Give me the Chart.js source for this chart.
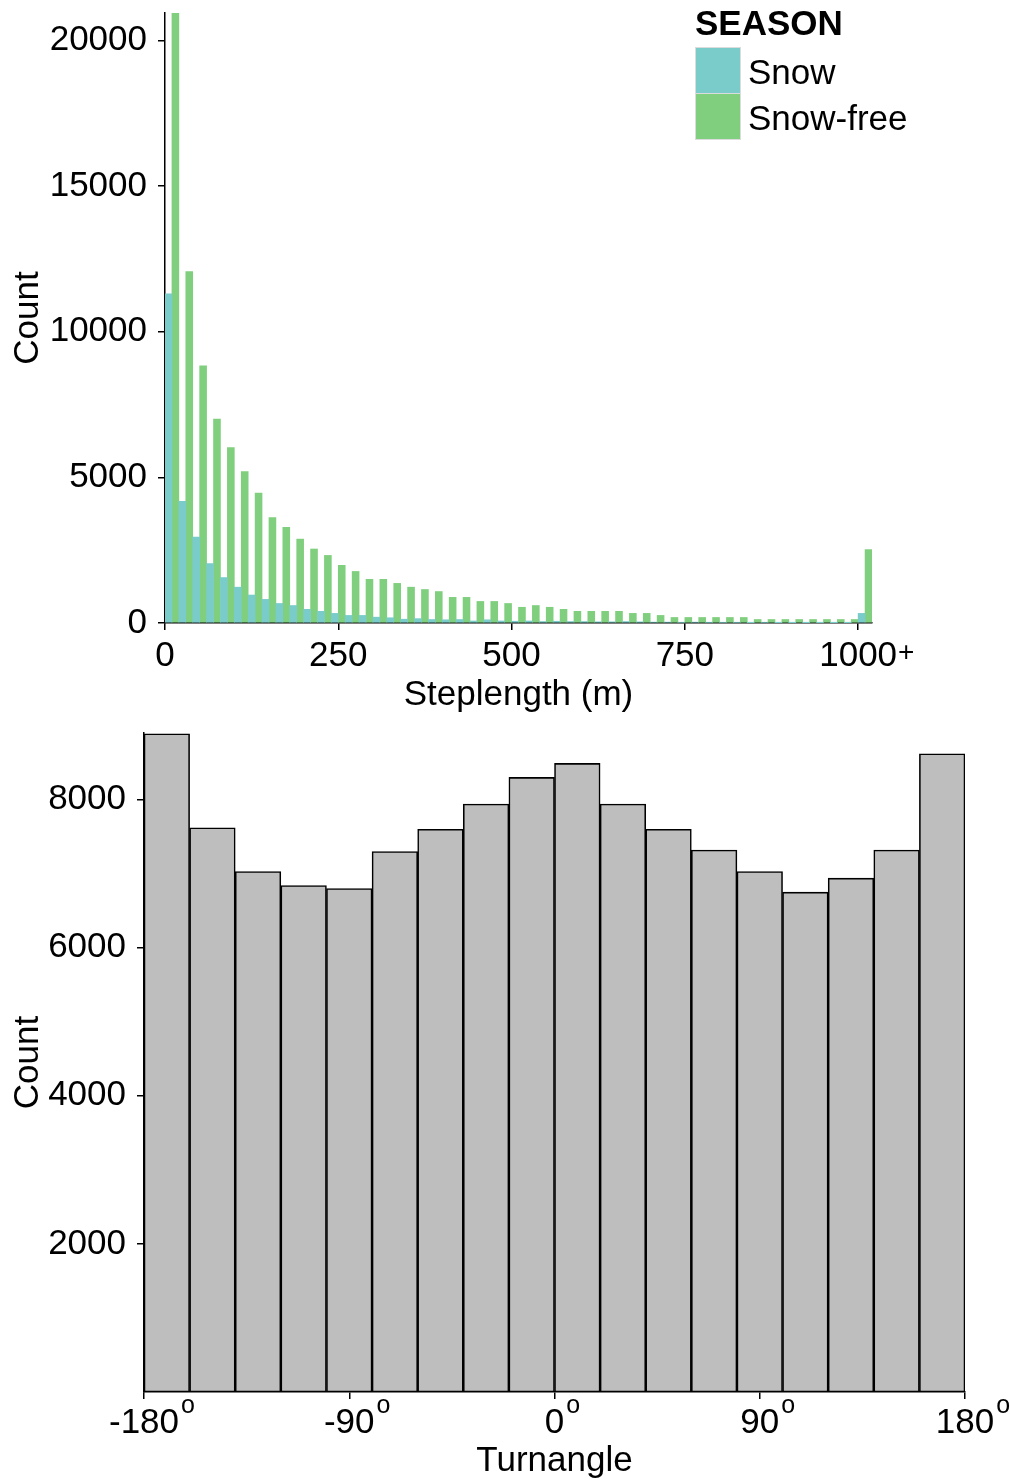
<!DOCTYPE html>
<html>
<head>
<meta charset="utf-8">
<script src="https://cdn.jsdelivr.net/npm/chart.js@4.4.1/dist/chart.umd.min.js"></script>
<style>
  body { margin: 0; background: #fff; }
  #stepChart { position: absolute; left: 0; top: 0; }
  #turnChart { position: absolute; left: 0; top: 720px; }
</style>
</head>
<body>
<canvas id="stepChart" width="1010" height="720"></canvas>
<canvas id="turnChart" width="1010" height="762"></canvas>
<script>
// steplength histogram, 20 m bins, last bin = 1000+
const stepBinStarts = [0, 20, 40, 60, 80, 100, 120, 140, 160, 180, 200, 220, 240, 260, 280, 300, 320, 340, 360, 380,
  400, 420, 440, 460, 480, 500, 520, 540, 560, 580, 600, 620, 640, 660, 680, 700, 720, 740, 760, 780,
  800, 820, 840, 860, 880, 900, 920, 940, 960, 980, 1000]
const snowCounts = [11300, 4180, 2950, 2040, 1560, 1230, 960, 810, 670, 600, 470, 400, 330, 260, 260, 200, 180, 130, 150, 120,
  110, 120, 70, 110, 70, 60, 70, 50, 60, 50, 50, 40, 40, 50, 40, 30, 30, 20, 30, 20,
  20, 20, 10, 20, 10, 10, 10, 10, 10, 10, 330]
const snowFreeCounts = [21500, 12060, 8830, 7000, 6020, 5200, 4460, 3620, 3280, 2880, 2540, 2320, 1980, 1770, 1500, 1500, 1360, 1230, 1150, 1080,
  880, 880, 740, 740, 670, 540, 600, 540, 470, 400, 400, 400, 400, 330, 330, 260, 190, 190, 190, 190,
  190, 190, 120, 120, 120, 120, 120, 120, 120, 120, 2520]
const stepTicks = [0, 250, 500, 750, 1000]
const stepCountTicks = [0, 5000, 10000, 15000, 20000]

// turnangle histogram, 20 degree bins
const turnBinStarts = [-180, -160, -140, -120, -100, -80, -60, -40, -20, 0, 20, 40, 60, 80, 100, 120, 140, 160]
const turnCounts = [8890, 7620, 7030, 6840, 6800, 7300, 7600, 7940, 8300, 8490, 7940, 7600, 7320, 7030, 6750, 6940, 7320, 8620]
const turnTicks = [-180, -90, 0, 90, 180]
const turnCountTicks = [2000, 4000, 6000, 8000]

const FONT = 'Liberation Sans, Arial, sans-serif'
const teal = '#79CCCA'
const green = '#80CF7E'

function fixedTicks(list) {
    return s => { s.ticks = list.map(v => ({ value: v })) }
}

function noPad(s) {
    s.paddingTop = 0; s.paddingBottom = 0; s.paddingLeft = 0; s.paddingRight = 0
}

function axis(extra) {
    return Object.assign({
        z: 1,
        grid: { drawOnChartArea: false, tickLength: 7, color: '#000', lineWidth: 1.5, offset: false },
        border: { display: true, color: '#000', width: 1.5 },
        ticks: { color: '#000', font: { size: 35, family: FONT }, maxRotation: 0, autoSkip: false },
    }, extra)
}

// small raised suffix after a tick label (degree "o", "+")
const suffixPlugin = {
    id: 'suffix',
    afterDraw(chart, args, opts) {
        const sc = chart.scales.x
        const ctx = chart.ctx
        ctx.save()
        ctx.fillStyle = '#000'
        ctx.textAlign = 'left'
        ctx.textBaseline = 'middle'
        sc.ticks.forEach(t => {
            const s = opts.text(t.value)
            if (!s) return
            ctx.font = `35px ${FONT}`
            const w = ctx.measureText(t.label).width
            const x = sc.getPixelForValue(t.value) + w / 2 + opts.gap
            const y = sc.top + 7 + opts.pad + 21 + opts.dy
            ctx.font = `${opts.size}px ${FONT}`
            ctx.fillText(s, x, y)
        })
        ctx.restore()
    }
}

const seasonLegend = {
    id: 'seasonLegend',
    afterDraw(chart) {
        const ctx = chart.ctx
        ctx.save()
        ctx.textAlign = 'left'
        ctx.textBaseline = 'middle'
        ctx.fillStyle = '#000'
        ctx.font = `bold 35px ${FONT}`
        ctx.fillText('SEASON', 695, 25)
        ctx.font = `35px ${FONT}`
        chart.data.datasets.forEach((ds, i) => {
            const y = 47 + i * 46
            ctx.fillStyle = ds.backgroundColor
            ctx.fillRect(695, y, 45, 46)
            ctx.strokeStyle = '#dcdcdc'
            ctx.lineWidth = 1
            ctx.strokeRect(695.5, y + 0.5, 45, 46)
            ctx.fillStyle = '#000'
            ctx.fillText(ds.label, 748, y + 27)
        })
        ctx.restore()
    }
}

const stepChart = new Chart('stepChart', {
    type: 'bar',
    data: {
        datasets: [{
            label: 'Snow',
            data: stepBinStarts.map((b, i) => ({ x: b + 10, y: snowCounts[i] })),
            backgroundColor: teal,
        }, {
            label: 'Snow-free',
            data: stepBinStarts.map((b, i) => ({ x: b + 10, y: snowFreeCounts[i] })),
            backgroundColor: green,
        }]
    },
    plugins: [suffixPlugin, seasonLegend],
    options: {
        responsive: false,
        animation: false,
        layout: { padding: { top: 13, right: 138, left: 0, bottom: 0 } },
        datasets: { bar: { categoryPercentage: 1, barPercentage: 1 } },
        plugins: {
            legend: { display: false },
            tooltip: { enabled: false },
            suffix: { text: v => v === 1000 ? '+' : '', size: 28, gap: 1, pad: 5.5, dy: -3 },
        },
        scales: {
            x: axis({
                type: 'linear', min: 0, max: 1020, offset: false,
                afterBuildTicks: fixedTicks(stepTicks),
                afterFit: s => { s.height = 97; noPad(s) },
                ticks: { color: '#000', font: { size: 35, family: FONT }, maxRotation: 0, autoSkip: false, padding: 5.5, callback: v => String(v) },
                title: { display: true, text: 'Steplength (m)', color: '#000', font: { size: 35, family: FONT }, padding: { top: 0, bottom: 4 } },
            }),
            y: axis({
                min: 0, max: 20940,
                afterBuildTicks: fixedTicks(stepCountTicks),
                afterFit: s => { s.width = 165; noPad(s) },
                ticks: { color: '#000', font: { size: 35, family: FONT }, padding: 11, callback: v => String(v) },
                title: { display: true, text: 'Count', color: '#000', font: { size: 35, family: FONT }, padding: { top: 7, bottom: 0 } },
            }),
        }
    }
})

const turnChart = new Chart('turnChart', {
    type: 'bar',
    data: {
        datasets: [{
            label: 'Turnangle',
            data: turnBinStarts.map((b, i) => ({ x: b + 10, y: turnCounts[i] })),
            backgroundColor: '#BEBEBE',
            borderColor: '#000',
            borderWidth: 1.6,
            borderSkipped: false,
        }]
    },
    plugins: [suffixPlugin],
    options: {
        responsive: false,
        animation: false,
        layout: { padding: { top: 13, right: 45, left: 0, bottom: 0 } },
        datasets: { bar: { categoryPercentage: 1, barPercentage: 1 } },
        plugins: {
            legend: { display: false },
            tooltip: { enabled: false },
            suffix: { text: () => 'o', size: 25, gap: 2, pad: 3, dy: -17 },
        },
        scales: {
            x: axis({
                type: 'linear', min: -180, max: 180, offset: false,
                afterBuildTicks: fixedTicks(turnTicks),
                afterFit: s => { s.height = 90; noPad(s) },
                ticks: { color: '#000', font: { size: 35, family: FONT }, maxRotation: 0, autoSkip: false, padding: 3, callback: v => String(v) },
                title: { display: true, text: 'Turnangle', color: '#000', font: { size: 35, family: FONT }, padding: { top: 0, bottom: 0 } },
            }),
            y: axis({
                min: 0, max: 8900,
                afterBuildTicks: fixedTicks(turnCountTicks),
                afterFit: s => { s.width = 144; noPad(s) },
                ticks: { color: '#000', font: { size: 35, family: FONT }, padding: 11, callback: v => String(v) },
                title: { display: true, text: 'Count', color: '#000', font: { size: 35, family: FONT }, padding: { top: 7, bottom: 0 } },
            }),
        }
    }
})
</script>
</body>
</html>
